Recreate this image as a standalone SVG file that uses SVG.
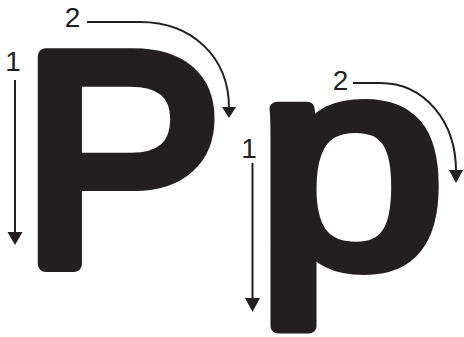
<svg xmlns="http://www.w3.org/2000/svg" width="464" height="337" viewBox="0 0 464 337">
<style>
.letter{font-family:"Liberation Sans",Arial,sans-serif;font-weight:normal;fill:#231f20;stroke:#231f20;stroke-width:16;stroke-linejoin:round}
.num{font-family:"Liberation Sans",Arial,sans-serif;font-size:28px;fill:#231f20;text-anchor:middle}
.arrow{fill:none;stroke:#231f20;stroke-width:2}
.head{fill:#231f20}
</style>
<rect width="464" height="337" fill="#fff"/>
<g id="letter-P"><text class="letter" x="21" y="264" font-size="302">P</text></g>
<g id="letter-p" transform="translate(270,0) scale(1.15,1) translate(-270,0)"><text class="letter" x="257.5" y="265" font-size="296" style="stroke-width:14">p</text></g>
<g id="labels">
<text class="num" x="13" y="71">1</text>
<text class="num" x="72.5" y="27">2</text>
<text class="num" x="249" y="158">1</text>
<text class="num" x="340.5" y="90">2</text>
</g>
<g id="connectors">
<path class="arrow" d="M15,80 V233"/>
<polygon class="head" points="7.5,232 22.5,232 15,245"/>
<path class="arrow" d="M87,22 H140 C192,22 229,57 229,108"/>
<polygon class="head" points="222,107 236,107 229,118"/>
<path class="arrow" d="M252.5,163 V299"/>
<polygon class="head" points="245,298 260,298 252.5,312"/>
<path class="arrow" d="M353,83 H380 C425,83 456,122 456,171"/>
<polygon class="head" points="449,170 463,170 456,183"/>
</g>
</svg>
